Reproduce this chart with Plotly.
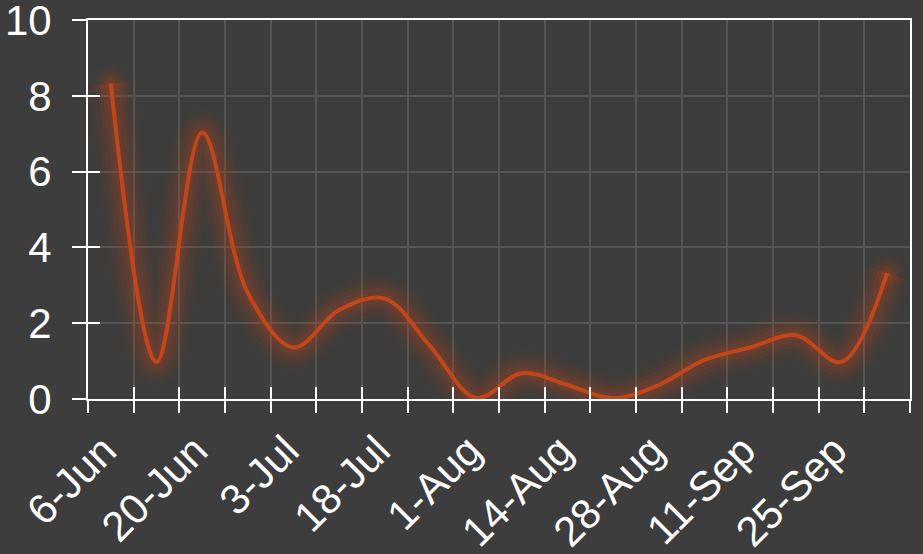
import plotly.graph_objects as go

# weekly categories; only every other one is labelled on the axis
dates = ['6-Jun', '13-Jun', '20-Jun', '27-Jun', '3-Jul', '10-Jul', '18-Jul', '25-Jul',
         '1-Aug', '7-Aug', '14-Aug', '21-Aug', '28-Aug', '4-Sep', '11-Sep', '18-Sep',
         '25-Sep', '2-Oct']
tick_labels = ['6-Jun', '', '20-Jun', '', '3-Jul', '', '18-Jul', '', '1-Aug', '',
               '14-Aug', '', '28-Aug', '', '11-Sep', '', '25-Sep', '']
values = [8.33, 0.98, 7.03, 2.8, 1.36, 2.35, 2.65, 1.38, 0.03, 0.68,
          0.37, 0.02, 0.37, 1.03, 1.36, 1.68, 0.98, 3.33]

line_col = 'rgb(193,70,26)'
bg = '#3d3d3d'
font = dict(family='Liberation Sans, Arial, sans-serif', size=42, color='white')

fig = go.Figure()

# soft glow around the line: several wide, faint copies underneath
n = len(values)
for w, a in [(46, 0.05), (36, 0.06), (27, 0.08), (19, 0.10), (11, 0.12)]:
    col = f'rgba(193,70,26,{a})'
    fig.add_trace(go.Scatter(x=dates, y=values, mode='lines', line_shape='spline',
                             line=dict(color=col, width=w),
                             hoverinfo='skip', showlegend=False))
    # round off the glow at both ends of the line
    fig.add_trace(go.Scatter(x=[dates[0], dates[-1]], y=[values[0], values[-1]],
                             mode='markers', marker=dict(color=col, size=w * 0.8),
                             hoverinfo='skip', showlegend=False))

fig.add_trace(go.Scatter(x=dates, y=values, mode='lines', line_shape='spline',
                         line=dict(color=line_col, width=4), showlegend=False))

# invisible trace so the overlay axes (inner half of the ticks) get drawn
fig.add_trace(go.Scatter(x=dates, y=values, mode='lines', xaxis='x2', yaxis='y2',
                         line=dict(color='rgba(0,0,0,0)', width=0),
                         hoverinfo='skip', showlegend=False))

fig.update_layout(
    width=923, height=554,
    margin=dict(l=88, r=13, t=20, b=155),
    paper_bgcolor=bg, plot_bgcolor=bg,
    font=font,
    xaxis=dict(type='category', categoryorder='array', categoryarray=dates,
               range=[-0.5, len(dates) - 0.5], automargin=False,
               tickmode='array', tickvals=dates, ticktext=tick_labels,
               tickson='boundaries', tickangle=-45,
               ticklabelstandoff=8, ticklabelshift=-7,
               ticks='outside', ticklen=12, tickwidth=2, tickcolor='white',
               showgrid=True, gridcolor='#555555', gridwidth=2,
               showline=True, linecolor='white', linewidth=2, mirror=True,
               zeroline=False, layer='below traces', ticklabeloverflow='allow'),
    yaxis=dict(range=[0, 10], tickvals=[0, 2, 4, 6, 8, 10], automargin=False,
               ticklabelstandoff=12,
               ticks='outside', ticklen=14, tickwidth=2, tickcolor='white',
               showgrid=True, gridcolor='#555555', gridwidth=2,
               showline=True, linecolor='white', linewidth=2, mirror=True,
               zeroline=False, layer='below traces', ticklabeloverflow='allow'),
    xaxis2=dict(type='category', categoryorder='array', categoryarray=dates,
                overlaying='x', matches='x', range=[-0.5, len(dates) - 0.5],
                automargin=False,
                tickmode='array', tickvals=dates, ticktext=['' for _ in dates],
                tickson='boundaries', ticks='inside', ticklen=12, tickwidth=2,
                tickcolor='white', showgrid=False, showline=False, zeroline=False),
    yaxis2=dict(overlaying='y', range=[0, 10], tickvals=[0, 2, 4, 6, 8, 10],
                automargin=False,
                showticklabels=False, ticks='inside', ticklen=12, tickwidth=2,
                tickcolor='white', showgrid=False, showline=False, zeroline=False),
)

fig.write_html("out.html", config={'displayModeBar': False},
               post_script="document.body.style.margin='0';")
